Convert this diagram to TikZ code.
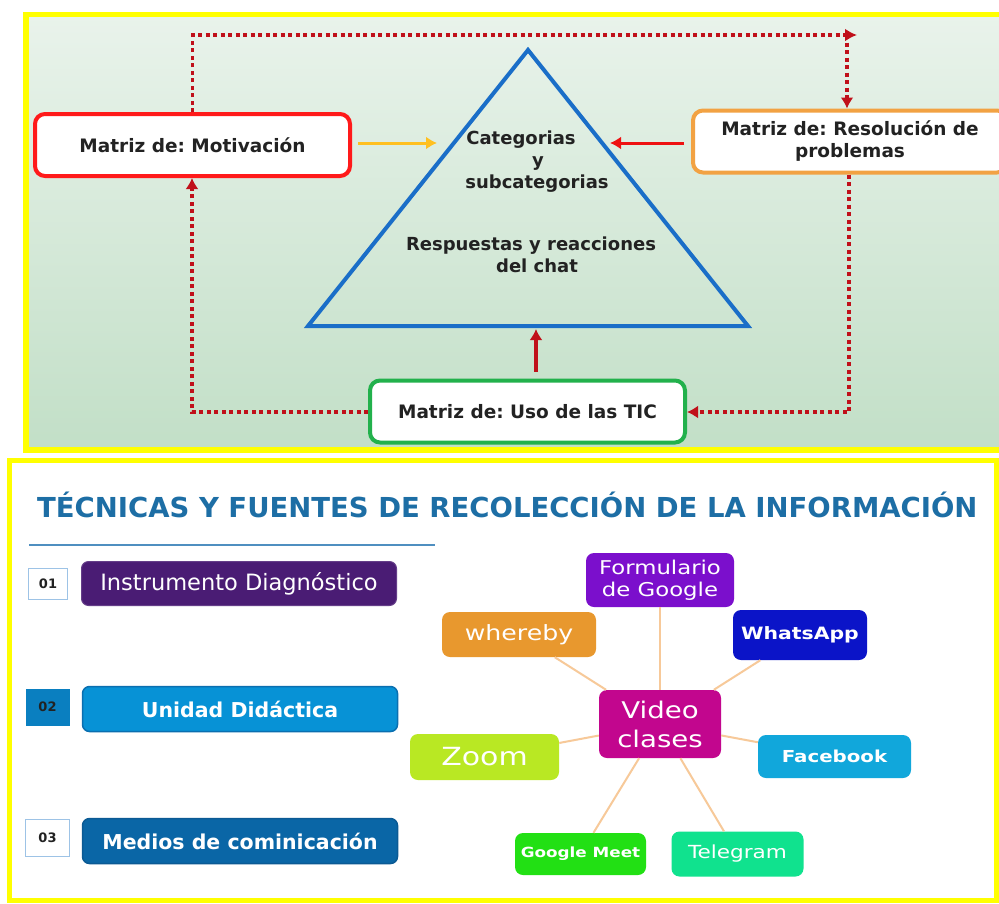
\documentclass[tikz,border=0pt]{standalone}
\usepackage{fontspec}
\setmainfont{DejaVu Sans}
\newfontfamily\wfont{DejaVu Sans}[FakeStretch=1.2]
\usetikzlibrary{arrows.meta}
\frenchspacing
\definecolor{yel}{HTML}{FFFF00}
\definecolor{bgtop}{HTML}{E9F3EB}
\definecolor{bgbot}{HTML}{C2DFC7}
\definecolor{txtdark}{HTML}{222222}
\definecolor{cred}{HTML}{FF1A1A}
\definecolor{corange}{HTML}{F2A243}
\definecolor{cgreen}{HTML}{22B14C}
\definecolor{cblue}{HTML}{1A6EC8}
\definecolor{cyarrow}{HTML}{FFC020}
\definecolor{crarrow}{HTML}{EE1111}
\definecolor{dred}{HTML}{C0101A}
\definecolor{titleblue}{HTML}{1D6EA5}
\definecolor{rulecol}{HTML}{4F8FC0}
\definecolor{numborder}{HTML}{9DC3E6}
\definecolor{cpurple}{HTML}{4A1C74}
\definecolor{cunidad}{HTML}{0792D6}
\definecolor{cunidadb}{HTML}{0A6FB0}
\definecolor{cnum}{HTML}{0A7FC0}
\definecolor{cmedios}{HTML}{0A66A6}
\definecolor{cmediosb}{HTML}{0B5A94}
\definecolor{cform}{HTML}{7B0FCC}
\definecolor{cwhere}{HTML}{E8982E}
\definecolor{cwhats}{HTML}{0B14C8}
\definecolor{cvideo}{HTML}{C2068E}
\definecolor{czoom}{HTML}{B9E823}
\definecolor{cface}{HTML}{11A7DB}
\definecolor{cmeet}{HTML}{22E014}
\definecolor{ctele}{HTML}{10E28E}
\definecolor{cspoke}{HTML}{F7C999}
\tikzset{
  mbox/.style={rectangle, rounded corners=10pt, fill=white, line width=4pt,
    minimum width=315pt, minimum height=62pt, align=center, inner sep=0pt,
    text=txtdark, font=\bfseries\fontsize{18.5}{22}\selectfont},
  tritext/.style={anchor=base, inner sep=0pt, text=txtdark,
    font=\bfseries\fontsize{18}{22}\selectfont},
  tipA/.style={-{Latex[length=11pt,width=13pt]}},
  dotline/.style={draw=dred, line width=3.5pt, dash pattern=on 4pt off 3.5pt},
  numbox/.style={rectangle, inner sep=0pt, minimum width=44pt, minimum height=37pt,
    text=txtdark, font=\bfseries\fontsize{13}{15}\selectfont},
  listbox/.style={rectangle, rounded corners=7pt, inner sep=0pt, minimum width=315pt,
    minimum height=44pt, text=white},
  mm/.style={rectangle, rounded corners=8pt, inner sep=0pt, text=white, align=center},
  spoke/.style={draw=cspoke, line width=2pt}
}
\begin{document}
\begin{tikzpicture}[x=1pt,y=-1pt]
\useasboundingbox (0,0) rectangle (999,903);
\clip (0,0) rectangle (999,903);
\fill[white] (0,0) rectangle (999,903);
% ---------- top panel ----------
\shade[top color=bgtop, bottom color=bgbot] (26,14.5) rectangle (1006,450);
\draw[yel, line width=5.5pt] (26,14.5) rectangle (1006,450);

\draw[cblue, line width=4pt, line join=miter] (528,50) -- (748,326) -- (308,326) -- cycle;
\node[tritext] (t1) at (521,144) {Categorias};
\node[tritext] (t2) at (538,166) {y};
\node[tritext] (t3) at (537,188) {subcategorias};
\node[tritext] (t4) at (531,250) {Respuestas y reacciones};
\node[tritext] (t5) at (537,272) {del chat};

\node[mbox, draw=cred] (mot) at (192.5,145) {Matriz de: Motivación};
\node[mbox, draw=corange, minimum width=314pt] (res) at (850,141.5) {Matriz de: Resolución de\\problemas};
\node[mbox, draw=cgreen] (uso) at (527.5,411.5) {Matriz de: Uso de las TIC};

\coordinate (ytip) at (437,143);
\coordinate (rtip) at (610,143);
\coordinate (tb) at (536,329);
\coordinate (tr) at (847,35);
\coordinate (trx) at (857,35);
\coordinate (br) at (849,412);
\coordinate (bl) at (192,412);

\draw[cyarrow, line width=3pt, tipA, shorten <=6pt] (mot.east |- ytip) -- (ytip);
\draw[crarrow, line width=3pt, tipA, shorten <=7pt] (res.west |- rtip) -- (rtip);
\draw[dred, line width=3.5pt, tipA, shorten <=7pt] (tb |- uso.north) -- (tb);

\draw[dotline, -{Latex[length=12pt,width=13pt]}] (mot.north) -- (mot.north |- tr) -- (trx);
\draw[dotline, tipA] (tr) -- (tr |- res.north);
\draw[dotline, tipA] (br |- res.south) -- (br) -- (uso.east |- br);
\draw[dotline, tipA] (uso.west |- bl) -- (bl) -- (bl |- mot.south);

% ---------- bottom panel ----------
\draw[yel, line width=5pt] (9,460.5) rectangle (996,900.5);
\node[anchor=base west, inner sep=0pt, text=titleblue,
  font=\bfseries\fontsize{27.5}{30}\selectfont] (title) at (37,517)
  {TÉCNICAS Y FUENTES DE RECOLECCIÓN DE LA INFORMACIÓN};
\coordinate (r1) at (29,545);
\coordinate (r2) at (435,545);
\draw[rulecol, line width=2.5pt] (r1) -- (r2);

\node[numbox, draw=numborder, line width=1.5pt, fill=white, minimum width=39pt, minimum height=31pt] (n1) at (48,584) {01};
\node[listbox, fill=cpurple, draw=cpurple!85!white, line width=1pt,
  font=\fontsize{22.5}{25}\selectfont] (b1) at (239,583.5) {Instrumento Diagnóstico};
\node[numbox, fill=cnum] (n2) at (47.5,707) {02};
\node[listbox, fill=cunidad, draw=cunidadb, line width=1.5pt, minimum height=45pt,
  font=\bfseries\fontsize{20.5}{24}\selectfont] (b2) at (240,709) {Unidad Didáctica};
\node[numbox, draw=numborder, line width=1.5pt, fill=white] (n3) at (47.5,838) {03};
\node[listbox, fill=cmedios, draw=cmediosb, line width=1.5pt, minimum height=45pt,
  font=\bfseries\fontsize{20.5}{24}\selectfont] (b3) at (240,841) {Medios de cominicación};

% mind map
\coordinate (vcc) at (660,724);
\node[mm, fill=cform, minimum width=148pt, minimum height=54pt,
  font=\wfont\fontsize{19}{22}\selectfont] (fg) at (660,580) {Formulario\\de Google};
\node[mm, fill=cwhere, minimum width=154pt, minimum height=45pt,
  font=\wfont\fontsize{21}{24}\selectfont] (wb) at (519,634.5) {whereby};
\node[mm, fill=cwhats, minimum width=134pt, minimum height=50pt,
  font=\wfont\bfseries\fontsize{17}{20}\selectfont] (wa) at (800,635) {WhatsApp};
\node[mm, fill=czoom, minimum width=149pt, minimum height=46pt,
  font=\wfont\fontsize{25}{28}\selectfont] (zm) at (484.5,757) {Zoom};
\node[mm, fill=cface, minimum width=153pt, minimum height=43pt,
  font=\wfont\bfseries\fontsize{16.5}{20}\selectfont] (fb) at (834.5,756.5) {Facebook};
\node[mm, fill=cmeet, minimum width=131pt, minimum height=42pt,
  font=\wfont\bfseries\fontsize{14}{17}\selectfont] (gm) at (580.5,854) {Google Meet};
\node[mm, fill=ctele, minimum width=132pt, minimum height=45pt,
  font=\wfont\fontsize{18}{21}\selectfont] (tg) at (737.5,854) {Telegram};
\node[mm, fill=cvideo, minimum width=122pt, minimum height=68pt,
  font=\wfont\fontsize{23}{29}\selectfont] (vc) at (vcc) {Video\\clases};

\foreach \t in {fg,wb,wa,zm,fb,gm,tg}{
  \draw[spoke] (vc) -- (\t);
}
\end{tikzpicture}
\end{document}
